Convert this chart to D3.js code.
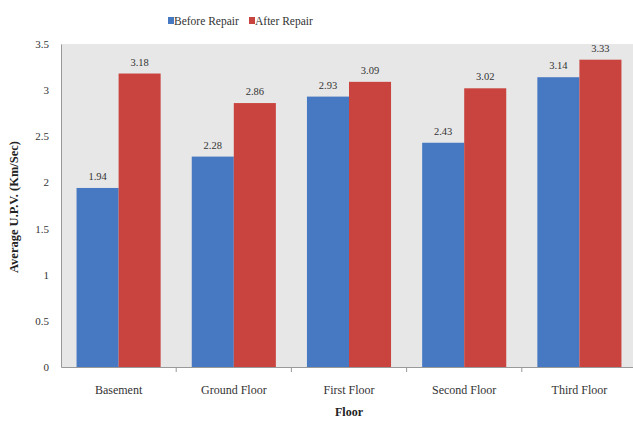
<!DOCTYPE html>
<html><head><meta charset="utf-8">
<script src="https://cdn.jsdelivr.net/npm/d3@7"></script>
<style>body{margin:0;background:#fff}svg{display:block}svg text{font-family:"Liberation Serif","Times New Roman",Times,serif}</style>
</head><body>
<script>
const categories = ["Basement","Ground Floor","First Floor","Second Floor","Third Floor"];
const seriesNames = ["Before Repair","After Repair"];
const beforeRepair = [1.94, 2.28, 2.93, 2.43, 3.14];
const afterRepair = [3.18, 2.86, 3.09, 3.02, 3.33];
const yTicks = [0, 0.5, 1, 1.5, 2, 2.5, 3, 3.5];
const colors = ["#4778c2", "#c9443f"];

(function () {
const W = 633, H = 423;
const svg = d3.select("body").append("svg").attr("width", W).attr("height", H);
const mLeft = 61, mRight = 637, mTop = 44, mBottom = 367;

svg.append("rect").attr("x", mLeft).attr("y", mTop).attr("width", mRight - mLeft).attr("height", mBottom - mTop).attr("fill", "#e7e7e7");

const x = d3.scaleBand().domain(categories).range([mLeft, mRight]).paddingInner(0.27).paddingOuter(0.135);
const x1 = d3.scaleBand().domain(seriesNames).range([0, x.bandwidth()]).padding(0);
const y = d3.scaleLinear().domain([0, 3.5]).range([mBottom, mTop]);

const data = categories.map((c, i) => ({cat: c, vals: [beforeRepair[i], afterRepair[i]]}));

const g = svg.selectAll("g.cat").data(data).join("g").attr("class", "cat").attr("transform", d => `translate(${x(d.cat)},0)`);
g.selectAll("rect").data(d => d.vals.map((v, j) => ({v, j}))).join("rect")
  .attr("x", d => x1(seriesNames[d.j])).attr("width", x1.bandwidth())
  .attr("y", d => y(d.v)).attr("height", d => mBottom - y(d.v))
  .attr("fill", d => colors[d.j]);
g.selectAll("text").data(d => d.vals.map((v, j) => ({v, j}))).join("text")
  .attr("x", d => x1(seriesNames[d.j]) + x1.bandwidth() / 2)
  .attr("y", d => y(d.v) - 8)
  .attr("text-anchor", "middle").attr("font-size", 10.5).attr("fill", "#333")
  .text(d => d.v.toFixed(2));

const ya = svg.append("g").attr("transform", `translate(${mLeft},0)`)
  .call(d3.axisLeft(y).tickValues(yTicks).tickSize(0).tickPadding(12).tickFormat(d => String(d)));
ya.select(".domain").attr("stroke", "#999");
ya.selectAll("text").attr("font-size", 11).attr("fill", "#333").attr("font-family", null);

const xa = svg.append("g").attr("transform", `translate(0,${mBottom})`)
  .call(d3.axisBottom(x).tickSize(0).tickPadding(18));
xa.select(".domain").attr("stroke", "#999");
xa.selectAll("text").attr("font-size", 12).attr("fill", "#333");
xa.attr("font-family", null);
ya.attr("font-family", null);
const step = x.step();
xa.selectAll("line.sep").data(categories.slice(1)).join("line").attr("class", "sep")
  .attr("x1", d => x(d) - step * 0.135).attr("x2", d => x(d) - step * 0.135)
  .attr("y1", 0).attr("y2", 5).attr("stroke", "#999");

svg.append("text").attr("x", 349).attr("y", 416).attr("text-anchor", "middle")
  .attr("font-weight", "bold").attr("font-size", 12).attr("fill", "#222").text("Floor");
svg.append("text").attr("transform", "translate(18,207) rotate(-90)").attr("text-anchor", "middle")
  .attr("font-weight", "bold").attr("font-size", 12.5).attr("fill", "#222").text("Average U.P.V. (Km/Sec)");

const legX = [168, 249];
seriesNames.forEach((s, i) => {
  svg.append("rect").attr("x", legX[i]).attr("y", 17).attr("width", 6).attr("height", 7).attr("fill", colors[i]);
  svg.append("text").attr("x", legX[i] + 6).attr("y", 24.5).attr("font-size", 11.5).attr("fill", "#333").text(s);
});
})();
</script>
</body></html>
